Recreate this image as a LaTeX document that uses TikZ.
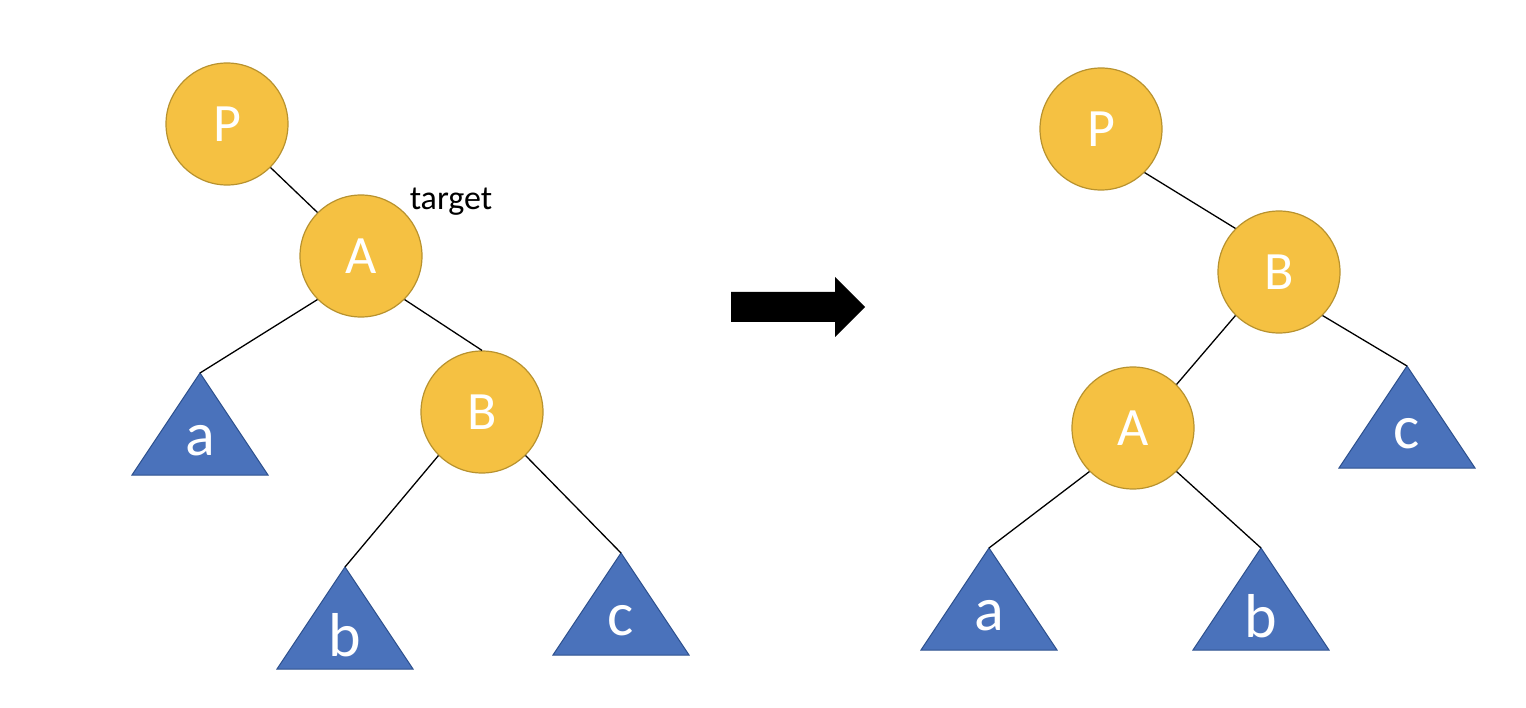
\documentclass[tikz,border=0pt]{standalone}
\usepackage{fontspec}
\setmainfont{Carlito}
\usetikzlibrary{calc}

\definecolor{nodegold}{HTML}{F5C142}
\definecolor{nodegoldline}{HTML}{B8922E}
\definecolor{treeblue}{HTML}{4A72BB}
\definecolor{treeblueline}{HTML}{2F528F}

\tikzset{
  keynode/.style={circle, fill=nodegold, draw=nodegoldline, line width=1.2pt,
    minimum size=122pt, inner sep=0pt, text=white, font=\fontsize{54}{58}\selectfont},
  subtree/.style={fill=treeblue, draw=treeblueline, line width=1pt},
  leaflabel/.style={text=white, font=\fontsize{62}{66}\selectfont},
  edge/.style={black, line width=1.3pt}
}

% apex name, apex position, label
\newcommand{\subtreeat}[3]{%
  \coordinate (#1) at #2;
  \draw[subtree] (#1) -- ++(-68,102) -- ++(136,0) -- cycle;
  \node[leaflabel] (#1-lbl) at ($(#1)+(0,68)$) {#3};
}

\begin{document}
\begin{tikzpicture}[x=1pt, y=-1pt]
\useasboundingbox (0,0) rectangle (1526,708);

% before rotation
\node[keynode] (lP) at (227,124) {P};
\node[keynode] (lA) at (361,256) {A};
\node[keynode] (lB) at (482,412) {B};
\node[font=\fontsize{34}{38}\selectfont] (tgt) at (451,202) {target};
\subtreeat{la}{(200,373)}{a}
\subtreeat{lb}{(345,567)}{b}
\subtreeat{lc}{(621,553)}{c}

\draw[edge] (lP.south east) -- (lA.north west);
\draw[edge] (lA.south west) -- (la);
\draw[edge] (lA.south east) -- (lB.north);
\draw[edge] (lB.south west) -- (lb);
\draw[edge] (lB.south east) -- (lc);

% arrow
\fill[black] (731,292) -- (835,292) -- (835,277) -- (865,307)
  -- (835,337) -- (835,322) -- (731,322) -- cycle;

% after rotation
\node[keynode] (rP) at (1101,129) {P};
\node[keynode] (rB) at (1279,272) {B};
\node[keynode] (rA) at (1133,428) {A};
\subtreeat{ra}{(989,548)}{a}
\subtreeat{rb}{(1261,548)}{b}
\subtreeat{rc}{(1407,366)}{c}

\draw[edge] (rP.south east) -- (rB.north west);
\draw[edge] (rB.south west) -- (rA.north east);
\draw[edge] (rB.south east) -- (rc);
\draw[edge] (rA.south west) -- (ra);
\draw[edge] (rA.south east) -- (rb);
\end{tikzpicture}
\end{document}
